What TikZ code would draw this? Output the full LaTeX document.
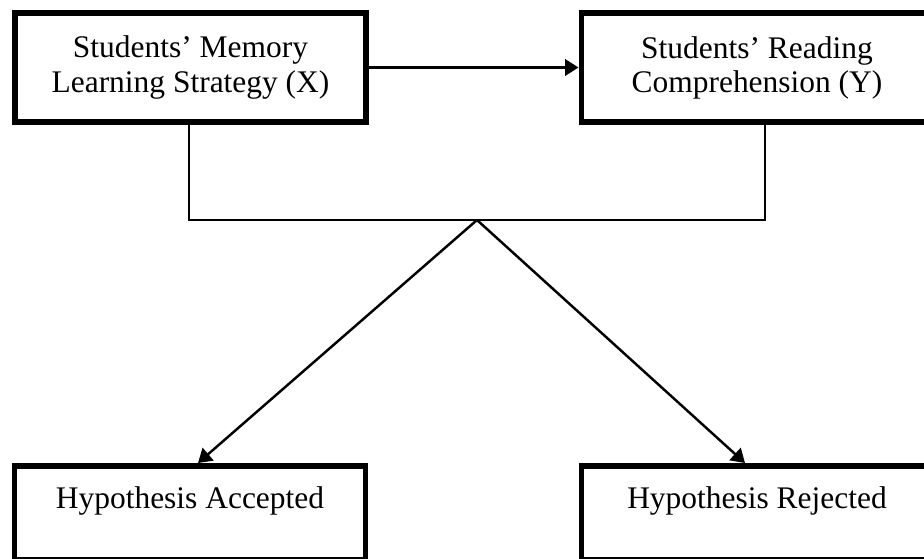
\documentclass[tikz,border=0pt]{standalone}
\usepackage{fontspec}
\setmainfont{Liberation Serif}
\usetikzlibrary{positioning,calc,arrows.meta}

\begin{document}
\begin{tikzpicture}[
    box/.style={rectangle,draw,line width=3.4pt,minimum width=7.02cm,align=center,
        font=\fontsize{17.9pt}{19.4pt}\selectfont},
    outcome/.style={rectangle,draw,line width=3.4pt,minimum width=7.02cm,inner sep=0pt,
        text height=0.84cm,text depth=1.04cm,anchor=base,
        font=\fontsize{17.9pt}{19.4pt}\selectfont},
    link/.style={line width=1.4pt},
    arr/.style={-{Triangle[length=0.27cm,width=0.33cm]},line width=1.4pt}]

\useasboundingbox (0,0) rectangle (18.48,11.16);
\clip (0,0) rectangle (18.48,11.16);

% Variables
\node[box,minimum height=2.18cm] (mem) at (3.81,9.81) {Students’ Memory\\Learning Strategy (X)};
\node[box,minimum height=2.18cm] (read) at (15.14,9.81) {Students’ Reading\\Comprehension (Y)};
\draw[arr] (mem.east) -- (read.west);

% Jonction
\coordinate (join) at (9.54,6.76);
\draw[link] ([xshift=-0.03cm]mem.south) |- (join) -| ([xshift=0.16cm]read.south);

% Hypotheses
\node[outcome] (acc) at (3.80,1.0) {Hypothesis Accepted};
\node[outcome] (rej) at (15.14,1.0) {Hypothesis Rejected};
\draw[arr] (join) -- ([xshift=0.16cm]acc.north);
\draw[arr] (join) -- ([xshift=-0.24cm]rej.north);

\end{tikzpicture}
\end{document}
